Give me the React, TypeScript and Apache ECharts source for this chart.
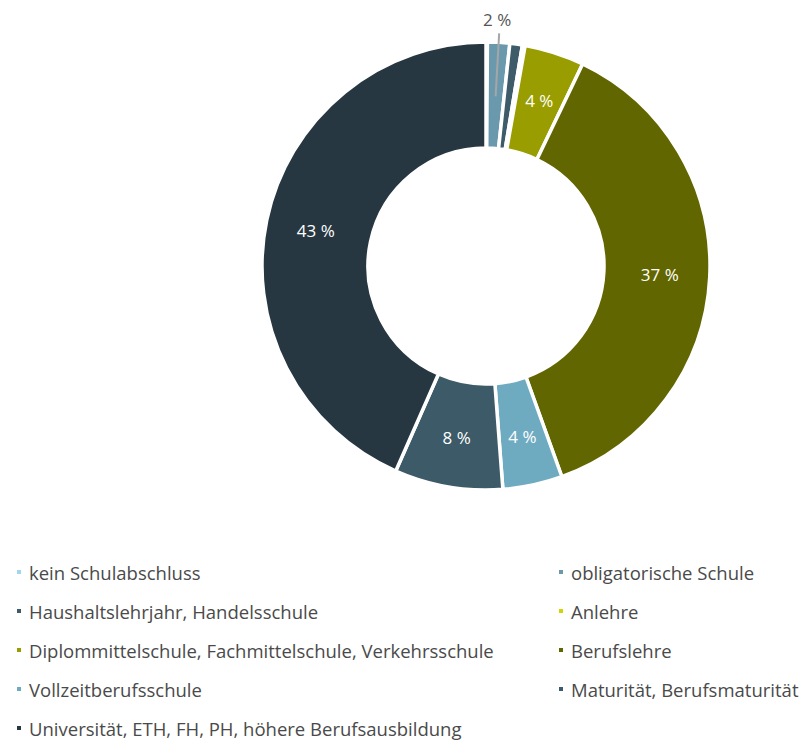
import React, { useEffect, useRef } from "react";
import * as echarts from "echarts";

const categories = [
  "kein Schulabschluss",
  "obligatorische Schule",
  "Haushaltslehrjahr, Handelsschule",
  "Anlehre",
  "Diplommittelschule, Fachmittelschule, Verkehrsschule",
  "Berufslehre",
  "Vollzeitberufsschule",
  "Maturität, Berufsmaturität",
  "Universität, ETH, FH, PH, höhere Berufsausbildung",
];
const values = [0.1, 1.6, 0.9, 0.2, 4.3, 37.4, 4.3, 7.8, 43.4];
const palette = [
  "#a3d6ec",
  "#6a99ae",
  "#3e5b69",
  "#cfd600",
  "#9a9d00",
  "#626600",
  "#6eabc1",
  "#3c5a67",
  "#263742",
];
const hiddenLabels = [0, 1, 2, 3];
const outsideLabel = 1;
const leftLegend = [categories[0], categories[2], categories[4], categories[6], categories[8]];
const rightLegend = [categories[1], categories[3], categories[5], categories[7]];

const FONT = "Open Sans";

export default function App() {
  const ref = useRef<HTMLDivElement>(null);
  useEffect(() => {
    document.body.style.margin = "0";
    const chart = echarts.init(ref.current!, null, { renderer: "svg" });
    const legendBase = {
      orient: "vertical",
      icon: "rect",
      itemWidth: 6,
      itemHeight: 6,
      itemGap: 19,
      top: 562,
      padding: 0,
      height: 180,
      selectedMode: false,
      textStyle: {
        fontFamily: FONT,
        fontSize: 18.5,
        color: "#4a4a4a",
        lineHeight: 20,
        padding: [0, 0, 0, 2],
      },
    };
    const fmt = (p: any) => `${Math.round(p.value)} %`;
    chart.setOption({
      animation: false,
      color: palette,
      textStyle: { fontFamily: FONT },
      legend: [
        { ...legendBase, left: 15, data: leftLegend },
        { ...legendBase, left: 557, data: rightLegend },
      ],
      series: [
        {
          type: "pie",
          z: 2,
          center: [486, 266],
          radius: [118, 224],
          startAngle: 90,
          clockwise: true,
          avoidLabelOverlap: false,
          itemStyle: { borderColor: "#ffffff", borderWidth: 3.5 },
          label: {
            show: true,
            position: "inside",
            color: "#ffffff",
            fontFamily: FONT,
            fontSize: 17,
            formatter: fmt,
          },
          labelLine: { show: false },
          emphasis: { disabled: true },
          data: categories.map((name, i) => ({
            name,
            value: values[i],
            label: hiddenLabels.includes(i) ? { show: false } : undefined,
          })),
        },
        {
          type: "pie",
          z: 5,
          silent: true,
          center: [486, 266],
          radius: [0, 170],
          startAngle: 90,
          clockwise: true,
          avoidLabelOverlap: false,
          itemStyle: { color: "rgba(0,0,0,0)", borderWidth: 0 },
          emphasis: { disabled: true },
          label: { show: false },
          labelLine: { show: false },
          labelLayout: (params: any) => {
            if (params.dataIndex !== outsideLabel || !params.labelLinePoints) return {};
            const pts = params.labelLinePoints;
            const end = pts[1];
            return {
              x: end[0] - 2,
              y: end[1] - 5,
              align: "center",
              verticalAlign: "bottom",
              labelLinePoints: [pts[0], end, end],
            };
          },
          data: categories.map((name, i) => ({
            name,
            value: values[i],
            label:
              i === outsideLabel
                ? {
                    show: true,
                    position: "outside",
                    color: "#555555",
                    fontFamily: FONT,
                    fontSize: 17,
                    formatter: fmt,
                  }
                : { show: false },
            labelLine:
              i === outsideLabel
                ? {
                    show: true,
                    showAbove: true,
                    length: 63,
                    length2: 0,
                    lineStyle: { color: "#a6a6a6", width: 2 },
                  }
                : { show: false },
          })),
        },
      ],
    });
    return () => chart.dispose();
  }, []);
  return <div ref={ref} style={{ width: 807, height: 743 }} />;
}
